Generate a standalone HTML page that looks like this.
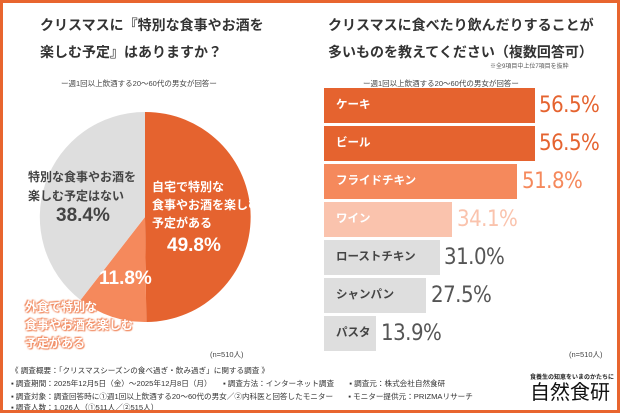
<!DOCTYPE html><html><head><meta charset="utf-8"><style>
body{margin:0}
#c{position:relative;width:620px;height:413px;background:#fff;box-sizing:border-box;border:3px solid #e8652f;overflow:hidden;font-family:"Liberation Sans","Noto Sans CJK JP",sans-serif;color:#333}
.a{position:absolute;white-space:nowrap}
.t{font-size:14px;font-weight:bold;color:#333;line-height:27px}
.s{font-size:7.5px;color:#444}
.bar{position:absolute;left:321px;height:35px}
.bl{position:absolute;left:333px;font-size:11.5px;font-weight:bold;line-height:35px}
.pc{position:absolute;font-size:22px;line-height:35px;font-family:"DejaVu Sans Condensed","Liberation Sans",sans-serif;letter-spacing:-0.5px}
.f{font-size:7.6px;color:#333;position:absolute;white-space:nowrap}
</style></head><body><div id="c">
<div class="a t" style="left:37px;top:9px">クリスマスに『特別な食事やお酒を<br>楽しむ予定』はありますか？</div>
<div class="a s" style="left:58px;top:75px">ー週1回以上飲酒する20～60代の男女が回答ー</div>
<svg class="a" style="left:-3px;top:-3px" width="620" height="413">
<path d="M145,217 L145,112 A105,105 0 0 1 146.3,322 Z" fill="#e5632f"/>
<path d="M146.3,322 A105,105 0 0 1 80.5,300 L145,217 Z" fill="#f5895c"/>
<path d="M80.5,300 A105,105 0 0 1 145,112 L145,217 Z" fill="#dedede"/>
</svg>
<div class="a" style="left:25px;top:165px;font-size:12px;font-weight:bold;color:#444;line-height:19px">特別な食事やお酒を<br>楽しむ予定はない</div>
<div class="a" style="left:53px;top:202px;font-size:19px;font-weight:bold;color:#444">38.4%</div>
<div class="a" style="left:149px;top:175px;font-size:12px;font-weight:bold;color:#fff;line-height:18px">自宅で特別な<br>食事やお酒を楽しむ<br>予定がある</div>
<div class="a" style="left:164px;top:232px;font-size:19px;font-weight:bold;color:#fff">49.8%</div>
<div class="a" style="left:96px;top:265px;font-size:19px;font-weight:bold;color:#fff">11.8%</div>
<div class="a" style="left:22px;top:295px;font-size:12px;font-weight:bold;color:#fff;line-height:18px;text-shadow:0 0 2px #f08a60,0 0 2px #f08a60,1px 1px 1px #f08a60,-1px -1px 1px #f08a60">外食で特別な<br>食事やお酒を楽しむ<br>予定がある</div>
<div class="a s" style="left:207px;top:346px">(n=510人)</div>
<div class="a t" style="left:325px;top:9px">クリスマスに食べたり飲んだりすることが<br>多いものを教えてください（複数回答可）</div>
<div class="a" style="left:487px;top:58px;font-size:6px;color:#555">※全9項目中上位7項目を抜粋</div>
<div class="a s" style="left:360px;top:75px">ー週1回以上飲酒する20～60代の男女が回答ー</div>
<div class="bar" style="top:85px;width:211px;background:#e5632f"></div><div class="bl" style="top:85px;color:#fff">ケーキ</div><div class="pc" style="left:536px;top:85px;color:#e5632f">56.5%</div>
<div class="bar" style="top:123px;width:211px;background:#e5632f"></div><div class="bl" style="top:123px;color:#fff">ビール</div><div class="pc" style="left:536px;top:123px;color:#e5632f">56.5%</div>
<div class="bar" style="top:161px;width:193px;background:#f5895c"></div><div class="bl" style="top:161px;color:#fff">フライドチキン</div><div class="pc" style="left:519px;top:161px;color:#f5895c">51.8%</div>
<div class="bar" style="top:199px;width:128px;background:#fac3ad"></div><div class="bl" style="top:199px;color:#fff">ワイン</div><div class="pc" style="left:454px;top:199px;color:#fac3ad">34.1%</div>
<div class="bar" style="top:237px;width:116px;background:#dedede"></div><div class="bl" style="top:237px;color:#444">ローストチキン</div><div class="pc" style="left:441px;top:237px;color:#555">31.0%</div>
<div class="bar" style="top:275px;width:102px;background:#dedede"></div><div class="bl" style="top:275px;color:#444">シャンパン</div><div class="pc" style="left:428px;top:275px;color:#555">27.5%</div>
<div class="bar" style="top:313px;width:52px;background:#dedede"></div><div class="bl" style="top:313px;color:#444">パスタ</div><div class="pc" style="left:378px;top:313px;color:#555">13.9%</div>
<div class="a s" style="left:566px;top:346px">(n=510人)</div>
<div class="f" style="left:8px;top:362px">《 調査概要：「クリスマスシーズンの食べ過ぎ・飲み過ぎ」に関する調査 》</div>
<div class="f" style="left:8px;top:375px">▪ 調査期間：2025年12月5日（金）～2025年12月8日（月）　　▪ 調査方法：インターネット調査　　▪ 調査元：株式会社自然食研</div>
<div class="f" style="left:8px;top:388px">▪ 調査対象：調査回答時に①週1回以上飲酒する20～60代の男女／②内科医と回答したモニター　　▪ モニター提供元：PRIZMAリサーチ</div>
<div class="f" style="left:8px;top:400px;line-height:9px">▪ 調査人数：1,026人（①511人／②515人）</div>
<div class="a" style="left:527px;top:369px;font-size:6px;font-weight:bold;color:#222">食養生の知恵をいまのかたちに</div>
<div class="a" style="left:527px;top:377px;font-size:20px;color:#111;line-height:26px">自然食研</div>
</div></body></html>
